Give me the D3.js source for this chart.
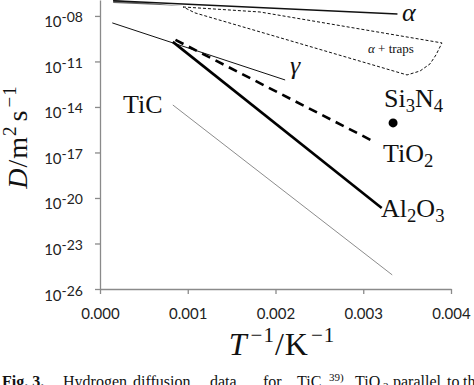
<!DOCTYPE html>
<html>
<head>
<meta charset="utf-8">
<script src="https://cdn.jsdelivr.net/npm/d3@7"></script>
<style>
  html, body { margin: 0; padding: 0; background: #fff; }
  svg { display: block; }
  .tick text { font-family: Lato, "Open Sans", sans-serif; fill: #222; }
</style>
</head>
<body>
<svg id="chart" width="474" height="385"></svg>
<script>
// ---------- data (x = 1/T in 1/K, y = D in m^2/s) ----------
const xTicks = [0, 0.001, 0.002, 0.003, 0.004];
const yTicks = [1e-26, 1e-23, 1e-20, 1e-17, 1e-14, 1e-11, 1e-8];
const yTickExp = ["-26", "-23", "-20", "-17", "-14", "-11", "-08"];

const alphaLine = [[0.00015, 1.0e-7], [0.00339, 1.35e-8]];
const alphaWedge = [[0.00015, 1.12e-7], [0.00095, 4.6e-8], [0.00015, 7.2e-8]];
const gammaLine = [[0.00014, 3.47e-9], [0.00211, 6.0e-13]];
const al2o3Line = [[0.00083, 1.95e-10], [0.00321, 2.19e-21]];
const tio2Line  = [[0.00086, 2.63e-10], [0.00313, 4.9e-17]];
const ticLine   = [[0.00083, 1.35e-14], [0.00333, 8.5e-26]];
const si3n4Point = [0.00334, 8.9e-16];
const trapsOutline = [
  [0.000946, 3.9e-8], [0.001823, 1.82e-8], [0.003897, 1.66e-10],
  [0.003829, 2.7e-11], [0.003761, 6.9e-12], [0.003647, 2.34e-12],
  [0.003499, 1.29e-12], [0.001823, 8.9e-10], [0.001083, 1.58e-8],
  [0.000969, 3.39e-8]
];
const captionWords = [
  {t: "Hydrogen", x: 63}, {t: "diffusion", x: 133}, {t: "data", x: 210},
  {t: "for", x: 263}, {t: "TiC,", x: 297}, {t: "39)", x: 329, sup: true},
  {t: "TiO", x: 355}, {t: "2", x: 383, sub: true}, {t: "parallel", x: 393},
  {t: "to", x: 447}, {t: "the", x: 463}
];

// ---------- scales ----------
const svg = d3.select("#chart");
const x = d3.scaleLinear().domain([0, 0.004]).range([100, 451]);
const y = d3.scaleLog().domain([1e-26, Math.pow(10, -6.95)]).range([289, 0]);

// ---------- axes ----------
const axisColor = "#8a8a8a";
const gx = svg.append("g").attr("transform", "translate(0,289)")
  .call(d3.axisBottom(x).tickValues(xTicks).tickFormat(d3.format(".3f"))
        .tickSize(5).tickSizeOuter(0).tickPadding(14));
gx.selectAll("text").attr("font-size", 15);

const gy = svg.append("g").attr("transform", "translate(100,0)")
  .call(d3.axisLeft(y).tickValues(yTicks).tickFormat("")
        .tickSize(5).tickSizeOuter(0));
gy.selectAll(".tick").each(function(d, i) {
  const t = d3.select(this).append("text")
    .attr("x", -17).attr("y", 11)
    .attr("text-anchor", "end")
    .attr("font-size", 15);
  t.append("tspan").text("10");
  t.append("tspan").attr("dy", -5).attr("font-size", 14).text(yTickExp[i]);
});
[gx, gy].forEach(g => {
  g.select(".domain").attr("stroke", axisColor).attr("stroke-width", 1.3);
  g.selectAll(".tick line").attr("stroke", axisColor).attr("stroke-width", 1.3);
});

// ---------- marks ----------
const line = d3.line().x(d => x(d[0])).y(d => y(d[1]));
const plot = svg.append("g");

plot.append("path").datum(trapsOutline.concat([trapsOutline[0]]))
  .attr("d", line)
  .attr("fill", "none").attr("stroke", "#111").attr("stroke-width", 1)
  .attr("stroke-dasharray", "3,2");

plot.append("path").datum(alphaWedge).attr("d", line)
  .attr("fill", "#666").attr("stroke", "none");
plot.append("path").datum(alphaLine).attr("d", line)
  .attr("fill", "none").attr("stroke", "#111").attr("stroke-width", 1.5);
plot.append("path").datum(gammaLine).attr("d", line)
  .attr("fill", "none").attr("stroke", "#111").attr("stroke-width", 1);
plot.append("path").datum(al2o3Line).attr("d", line)
  .attr("fill", "none").attr("stroke", "#000").attr("stroke-width", 2.6);
plot.append("path").datum(tio2Line).attr("d", line)
  .attr("fill", "none").attr("stroke", "#000").attr("stroke-width", 2.6)
  .attr("stroke-dasharray", "9,6");
plot.append("path").datum(ticLine).attr("d", line)
  .attr("fill", "none").attr("stroke", "#8c8c8c").attr("stroke-width", 1);
plot.append("circle").attr("cx", x(si3n4Point[0])).attr("cy", y(si3n4Point[1]))
  .attr("r", 4.5).attr("fill", "#000");

// ---------- annotations ----------
const serif = "'Liberation Serif', 'DejaVu Serif', serif";
function label(px, py, size, parts, italic) {
  const t = svg.append("text").attr("x", px).attr("y", py)
    .attr("font-family", serif).attr("font-size", size).attr("fill", "#111");
  if (italic) t.attr("font-style", "italic");
  parts.forEach(p => {
    const s = t.append("tspan").text(p.t);
    if (p.sub) s.attr("font-size", size * 0.72).attr("dy", 5);
    if (p.back) s.attr("dy", p.back);
    if (p.it) s.attr("font-style", "italic");
  });
  return t;
}
label(123, 113, 26, [{t: "TiC"}]);
label(402, 21, 26, [{t: "α"}], true);
label(368, 53, 13, [{t: "α", it: true}, {t: " + traps"}]);
label(290, 74, 26, [{t: "γ"}], true);
label(384, 107, 26, [{t: "Si"}, {t: "3", sub: true}, {t: "N", back: -5}, {t: "4", sub: true}]);
label(383, 162, 26, [{t: "TiO"}, {t: "2", sub: true}]);
label(381, 217, 26, [{t: "Al"}, {t: "2", sub: true}, {t: "O", back: -5}, {t: "3", sub: true}]);

// axis titles
const xl = svg.append("text").attr("x", 282).attr("y", 355).attr("text-anchor", "middle")
  .attr("font-family", serif).attr("font-size", 32).attr("fill", "#111")
  .attr("letter-spacing", 1);
xl.append("tspan").attr("font-style", "italic").text("T");
xl.append("tspan").attr("font-size", 21).attr("dx", 3).attr("dy", -13).text("−1");
xl.append("tspan").attr("dy", 13).text("/K");
xl.append("tspan").attr("font-size", 21).attr("dx", 2).attr("dy", -13).text("−1");

const yl = svg.append("text").attr("transform", "translate(27,137) rotate(-90)")
  .attr("text-anchor", "middle")
  .attr("font-family", serif).attr("font-size", 28).attr("fill", "#111")
  .attr("letter-spacing", 1);
yl.append("tspan").attr("font-style", "italic").text("D");
yl.append("tspan").text("/m");
yl.append("tspan").attr("font-size", 19).attr("dy", -11).text("2");
yl.append("tspan").attr("dx", 4).attr("dy", 11).text("s");
yl.append("tspan").attr("font-size", 19).attr("dx", 2).attr("dy", -11).text("−1");

// caption (cut off at bottom)
const cap = svg.append("text").attr("y", 387)
  .attr("font-family", serif).attr("font-size", 16).attr("fill", "#111");
cap.append("tspan").attr("x", 2).attr("font-weight", "bold").text("Fig. 3.");
captionWords.forEach(w => {
  const s = cap.append("tspan").attr("x", w.x).attr("y", w.sup ? 381 : (w.sub ? 390 : 387)).text(w.t);
  if (w.sup || w.sub) s.attr("font-size", 11);
});
</script>
</body>
</html>
